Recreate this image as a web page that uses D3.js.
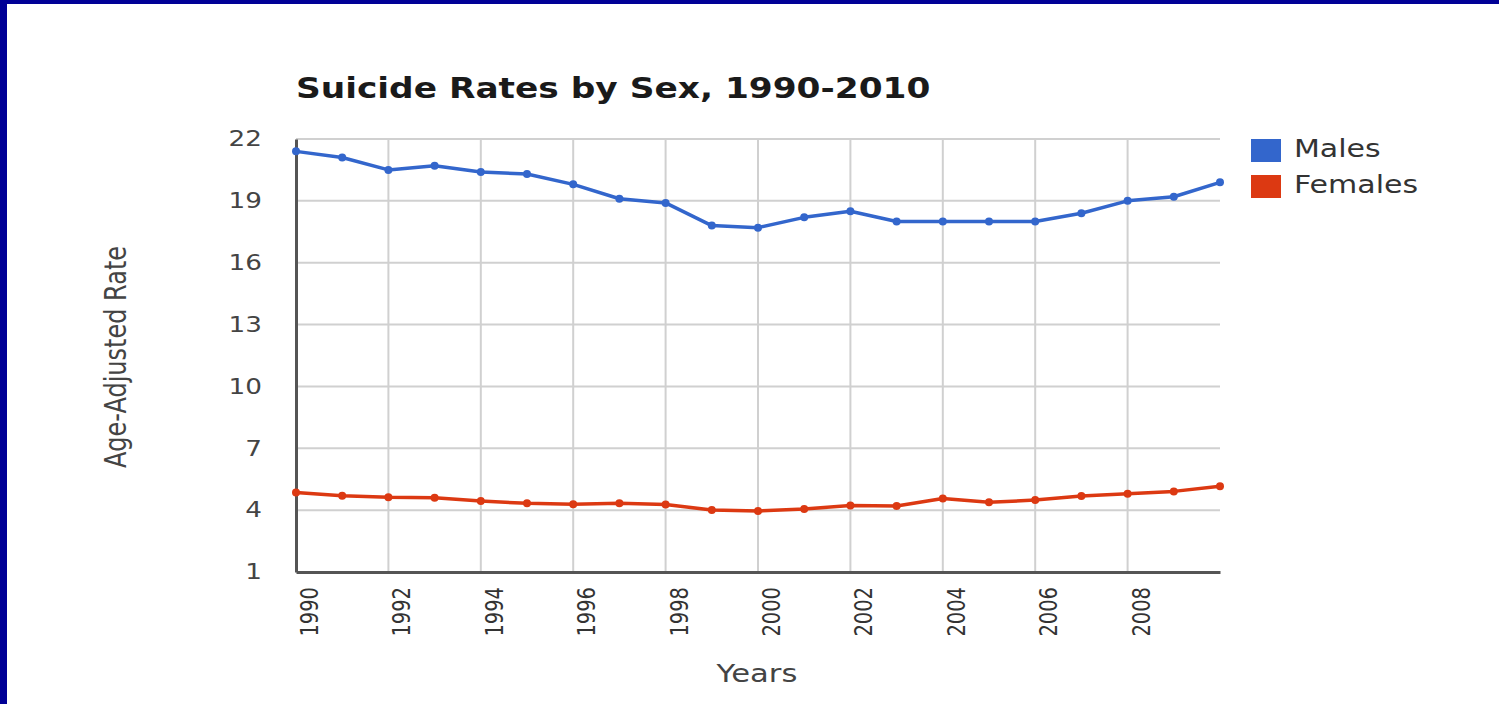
<!DOCTYPE html>
<html>
<head>
<meta charset="utf-8">
<script src="https://cdn.jsdelivr.net/npm/d3@7"></script>
<style>
  body { margin: 0; background: #fff; }
  svg { display: block; }
</style>
</head>
<body>
<svg id="chart"></svg>
<script>
// data
const years = [1990, 1991, 1992, 1993, 1994, 1995, 1996, 1997, 1998, 1999, 2000,
               2001, 2002, 2003, 2004, 2005, 2006, 2007, 2008, 2009, 2010];
const males = [21.4, 21.1, 20.5, 20.7, 20.4, 20.3, 19.8, 19.1, 18.9, 17.8, 17.7,
               18.2, 18.5, 18.0, 18.0, 18.0, 18.0, 18.4, 19.0, 19.2, 19.9];
const females = [4.85, 4.7, 4.62, 4.6, 4.44, 4.33, 4.28, 4.33, 4.27, 4.01, 3.96,
                 4.06, 4.22, 4.2, 4.56, 4.38, 4.49, 4.69, 4.8, 4.91, 5.16];
const yTicks = [1, 4, 7, 10, 13, 16, 19, 22];
const xTicks = [1990, 1992, 1994, 1996, 1998, 2000, 2002, 2004, 2006, 2008];
const seriesNames = ["Males", "Females"];
const seriesColors = ["#3366cc", "#dc3912"];

const W = 1499, H = 704;
const plot = { left: 296, right: 1220, top: 139, bottom: 572 };
const stretch = 1.25; // the picture is widened horizontally
const font = "'DejaVu Sans', Verdana, sans-serif";

const svg = d3.select("#chart").attr("width", W).attr("height", H);

// frame of the slide
svg.append("rect").attr("x", 0).attr("y", 0).attr("width", 7).attr("height", H).attr("fill", "#000096");
svg.append("rect").attr("x", 0).attr("y", 0).attr("width", W).attr("height", 4).attr("fill", "#000096");

const x = d3.scaleLinear().domain([1990, 2010]).range([plot.left, plot.right]);
const y = d3.scaleLinear().domain([1, 22]).range([plot.bottom, plot.top]);

// gridlines
svg.append("g").selectAll("line").data(yTicks.filter(d => d > 1)).join("line")
    .attr("x1", plot.left).attr("x2", plot.right)
    .attr("y1", d => y(d)).attr("y2", d => y(d))
    .attr("stroke", "#d0d0d0").attr("stroke-width", 2);
svg.append("g").selectAll("line").data(xTicks.filter(d => d > 1990)).join("line")
    .attr("x1", d => x(d)).attr("x2", d => x(d))
    .attr("y1", plot.top).attr("y2", plot.bottom)
    .attr("stroke", "#d0d0d0").attr("stroke-width", 2);

// y axis
const yAxis = svg.append("g").attr("transform", `translate(${plot.left},0)`)
    .call(d3.axisLeft(y).tickValues(yTicks).tickSize(0).tickFormat(d3.format("d")));
yAxis.select(".domain").attr("stroke", "#555").attr("stroke-width", 3);
yAxis.selectAll(".tick text")
    .attr("x", 0)
    .attr("transform", `translate(-34,0) scale(${stretch},1)`)
    .attr("fill", "#444")
    .style("font-family", font).style("font-size", "21px");

// x axis
const xAxis = svg.append("g").attr("transform", `translate(0,${plot.bottom})`)
    .call(d3.axisBottom(x).tickValues(xTicks).tickSize(0).tickFormat(d3.format("d")));
xAxis.select(".domain").attr("stroke", "#555").attr("stroke-width", 3);
xAxis.selectAll(".tick text")
    .attr("x", 0).attr("y", 0).attr("dy", "0.35em")
    .attr("text-anchor", "end")
    .attr("transform", `translate(13,15) scale(${stretch},1) rotate(-90)`)
    .attr("fill", "#333")
    .style("font-family", font).style("font-size", "19.5px");

// lines and points
const series = [males, females];
series.forEach((vals, i) => {
    const pts = years.map((yr, j) => [yr, vals[j]]);
    svg.append("path").datum(pts)
        .attr("fill", "none")
        .attr("stroke", seriesColors[i])
        .attr("stroke-width", 3.5)
        .attr("stroke-linejoin", "round")
        .attr("d", d3.line().x(d => x(d[0])).y(d => y(d[1])));
    svg.append("g").selectAll("circle").data(pts).join("circle")
        .attr("cx", d => x(d[0])).attr("cy", d => y(d[1]))
        .attr("r", 4).attr("fill", seriesColors[i]);
});

// title
svg.append("text")
    .attr("transform", `translate(296,98) scale(${stretch},1)`)
    .attr("fill", "#1a1a1a")
    .style("font-family", font).style("font-size", "27.5px").style("font-weight", "bold")
    .text("Suicide Rates by Sex, 1990-2010");

// axis titles
svg.append("text")
    .attr("transform", `translate(757,682) scale(${stretch},1)`)
    .attr("text-anchor", "middle")
    .attr("fill", "#444")
    .style("font-family", font).style("font-size", "24.5px")
    .text("Years");
svg.append("text")
    .attr("transform", `translate(126,357) scale(${stretch},1) rotate(-90)`)
    .attr("text-anchor", "middle")
    .attr("fill", "#444")
    .style("font-family", font).style("font-size", "24px")
    .text("Age-Adjusted Rate");

// legend
const legend = svg.append("g").attr("transform", "translate(1251,139)");
seriesNames.forEach((name, i) => {
    legend.append("rect")
        .attr("x", 0).attr("y", i * 36)
        .attr("width", 30).attr("height", 23)
        .attr("fill", seriesColors[i]);
    legend.append("text")
        .attr("transform", `translate(43,${i * 36 + 18}) scale(${stretch},1)`)
        .attr("fill", "#333")
        .style("font-family", font).style("font-size", "24px")
        .text(name);
});
</script>
</body>
</html>
